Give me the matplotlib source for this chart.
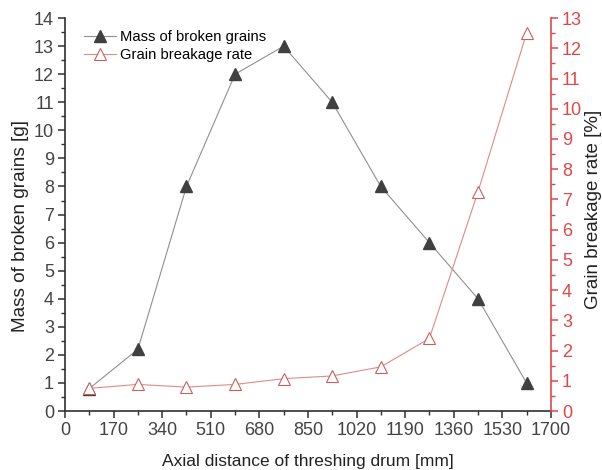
import numpy as np
import matplotlib
matplotlib.use('Agg')
from matplotlib import pyplot as plt
from matplotlib.ticker import MultipleLocator

plt.rcParams['font.family'] = ['Liberation Sans', 'DejaVu Sans']

distance = [85, 255, 425, 595, 765, 935, 1105, 1275, 1445, 1615]
mass = [0.8, 2.2, 8, 12, 13, 11, 8, 6, 4, 1]
rate = [0.75, 0.88, 0.79, 0.88, 1.07, 1.16, 1.46, 2.4, 7.25, 12.5]
x_ticks = [0, 170, 340, 510, 680, 850, 1020, 1190, 1360, 1530, 1700]

red = '#e04848'

fig = plt.figure(figsize=(6.02, 4.70), dpi=100)
ax = fig.add_axes([0.108, 0.1255, 0.807, 0.836])
ax2 = ax.twinx()

l1, = ax.plot(distance, mass, color='#909090', lw=0.8, marker='^', ms=8,
              mfc='#404040', mec='#404040', label='Mass of broken grains')
l2, = ax2.plot(distance, rate, color='#e08a8a', lw=0.8, marker='^', ms=9,
               mfc='white', mec='#c86060', mew=0.8, label='Grain breakage rate')

ax.set_xlim(0, 1700)
ax.set_ylim(0, 14)
ax2.set_ylim(0, 13)
ax.set_xticks(x_ticks)
ax.xaxis.set_minor_locator(MultipleLocator(85))
ax.yaxis.set_major_locator(MultipleLocator(1))
ax.yaxis.set_minor_locator(MultipleLocator(0.5))
ax2.yaxis.set_major_locator(MultipleLocator(1))
ax2.yaxis.set_minor_locator(MultipleLocator(0.5))

for a in (ax, ax2):
    a.spines['top'].set_visible(False)
ax.spines['right'].set_visible(False)
ax.spines['left'].set_color('#303030')
ax.spines['bottom'].set_color('#303030')
ax2.spines['left'].set_visible(False)
ax2.spines['bottom'].set_visible(False)
ax2.spines['right'].set_color(red)
ax2.spines['right'].set_linewidth(1.2)
ax.spines['left'].set_linewidth(1.2)
ax.spines['bottom'].set_linewidth(1.2)

ax.tick_params(which='major', direction='out', length=5, width=1.1, pad=3,
               labelsize=13, colors='#303030', labelcolor='#444444')
ax.tick_params(which='minor', direction='out', length=3, width=1.0, colors='#303030')
ax2.tick_params(which='major', direction='out', length=5, width=1.1, pad=3,
                labelsize=13, colors=red, labelcolor=red)
ax2.tick_params(which='minor', direction='out', length=3, width=1.0, colors=red)

ax.set_xlabel('Axial distance of threshing drum [mm]', fontsize=12.5, color='#222222')
ax.xaxis.set_label_coords(0.5, -0.11)
ax.set_ylabel('Mass of broken grains [g]', fontsize=13.7, color='#222222')
ax.yaxis.set_label_coords(-0.074, 0.47)
ax2.set_ylabel('Grain breakage rate [%]', fontsize=13.5, color='#222222')
ax2.yaxis.set_label_coords(1.07, 0.513)

ax.legend(handles=[l1, l2], loc='upper left', bbox_to_anchor=(0.02, 0.992),
          frameon=False, fontsize=10.6, handlelength=2.2, handletextpad=0.3,
          labelspacing=0.25, borderaxespad=0.2)

fig.savefig('out.png', dpi=100)
